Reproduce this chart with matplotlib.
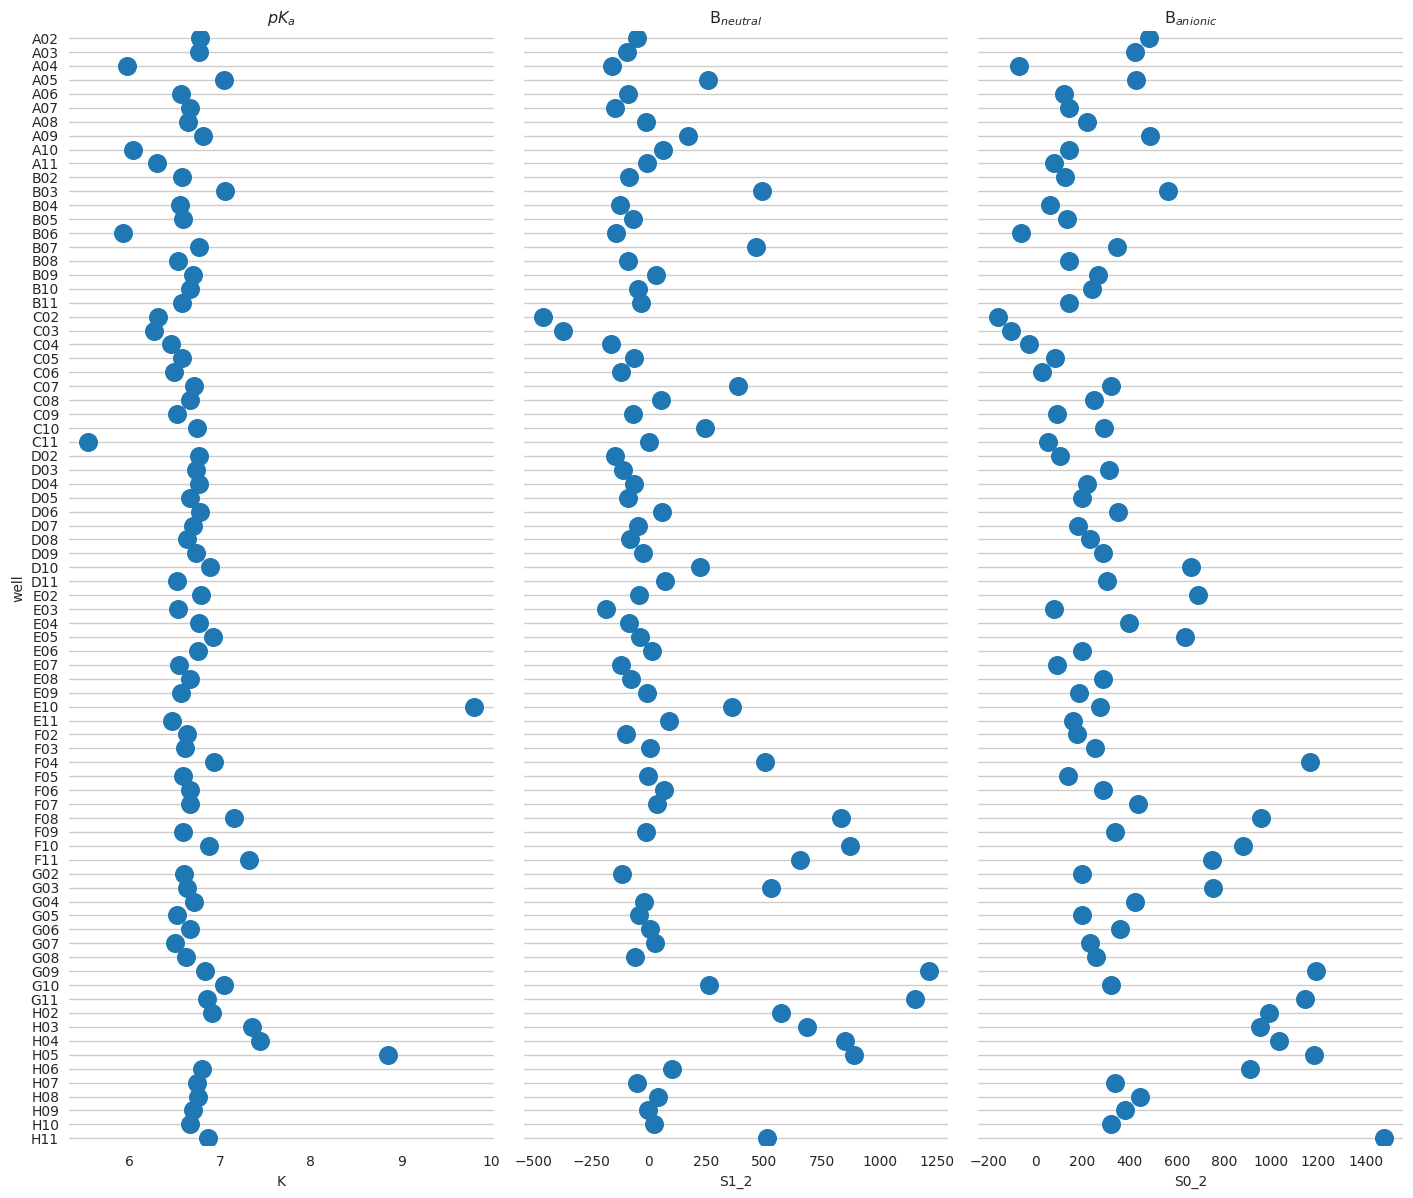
import numpy as np
import matplotlib
matplotlib.use('Agg')
import matplotlib.pyplot as plt

# wells (rows), top to bottom
wells = [r + '%02d' % c for r in 'ABCDEFGH' for c in range(2, 12)]

# pKa  -> column K
pka = [6.78, 6.77, 5.97, 7.04, 6.57, 6.67, 6.64, 6.81, 6.03, 6.30,
       6.58, 7.05, 6.56, 6.59, 5.92, 6.77, 6.53, 6.70, 6.67, 6.58,
       6.31, 6.27, 6.45, 6.58, 6.49, 6.71, 6.67, 6.52, 6.74, 5.54,
       6.77, 6.73, 6.77, 6.66, 6.78, 6.70, 6.63, 6.73, 6.89, 6.52,
       6.79, 6.53, 6.77, 6.92, 6.75, 6.54, 6.67, 6.57, 9.81, 6.47,
       6.63, 6.61, 6.93, 6.59, 6.67, 6.67, 7.15, 6.59, 6.88, 7.32,
       6.60, 6.63, 6.71, 6.52, 6.67, 6.50, 6.62, 6.83, 7.04, 6.85,
       6.91, 7.35, 7.44, 8.85, 6.80, 6.74, 6.75, 6.70, 6.66, 6.86]

# B neutral -> column S1_2
b_neutral = [-50, -94, -159, 257, -90, -146, -12, 170, 62, -7,
             -85, 491, -124, -68, -142, 465, -90, 32, -46, -33,
             -458, -371, -163, -64, -120, 387, 53, -68, 244, 1,
             -146, -111, -64, -90, 58, -46, -81, -25, 222, 71,
             -42, -185, -85, -38, 14, -120, -77, -7, 361, 88,
             -98, 6, 504, -3, 66, 36, 833, -12, 872, 656,
             -116, 530, -20, -42, 6, 27, -59, 1214, 261, 1154,
             573, 686, 851, 890, 101, -50, 40, -3, 23, 513]

# B anionic -> column S0_2
b_anionic = [483, 424, -70, 428, 120, 145, 221, 488, 141, 78,
             128, 564, 61, 133, -62, 348, 145, 264, 242, 141,
             -159, -104, -28, 82, 27, 319, 251, 94, 293, 52,
             107, 314, 221, 200, 352, 183, 234, 289, 661, 302,
             691, 78, 399, 636, 200, 94, 289, 187, 276, 162,
             179, 255, 1164, 137, 289, 437, 957, 340, 881, 750,
             200, 754, 424, 200, 361, 234, 259, 1190, 323, 1143,
             991, 953, 1033, 1181, 910, 340, 445, 382, 319, 1477]

titles = ['$pK_a$', 'B$_{neutral}$', 'B$_{anionic}$']
xlabels = ['K', 'S1_2', 'S0_2']
series = [pka, b_neutral, b_anionic]

txt = '#262626'
plt.rcParams['font.family'] = 'DejaVu Sans'
plt.rcParams['text.color'] = txt
plt.rcParams['axes.labelcolor'] = txt
plt.rcParams['xtick.color'] = txt
plt.rcParams['ytick.color'] = txt

fig, axes = plt.subplots(1, 3, sharey=True, figsize=(14.13, 11.98), dpi=100)
fig.subplots_adjust(left=0.0488, right=0.993, bottom=0.044, top=0.974, wspace=0.0707)

ypos = np.arange(len(wells))
for ax, vals, title, xl in zip(axes, series, titles, xlabels):
    ax.plot(vals, ypos, 'o', color='#1f77b4', markersize=13.7, markeredgewidth=0,
            linestyle='none', zorder=3)
    ax.set_title(title, fontsize=11.5)
    ax.set_xlabel(xl, fontsize=10)
    ax.yaxis.grid(True, color='#cccccc', linewidth=1)
    ax.xaxis.grid(False)
    ax.set_axisbelow(True)
    for s in ax.spines.values():
        s.set_visible(False)
    ax.tick_params(axis='both', length=0, labelsize=10, pad=7)

axes[0].set_yticks(ypos)
axes[0].set_yticklabels(wells)
axes[0].set_ylim(len(wells) - 0.5, -0.5)
axes[0].set_ylabel('well', fontsize=10)

plt.savefig('out.png', dpi=100)
